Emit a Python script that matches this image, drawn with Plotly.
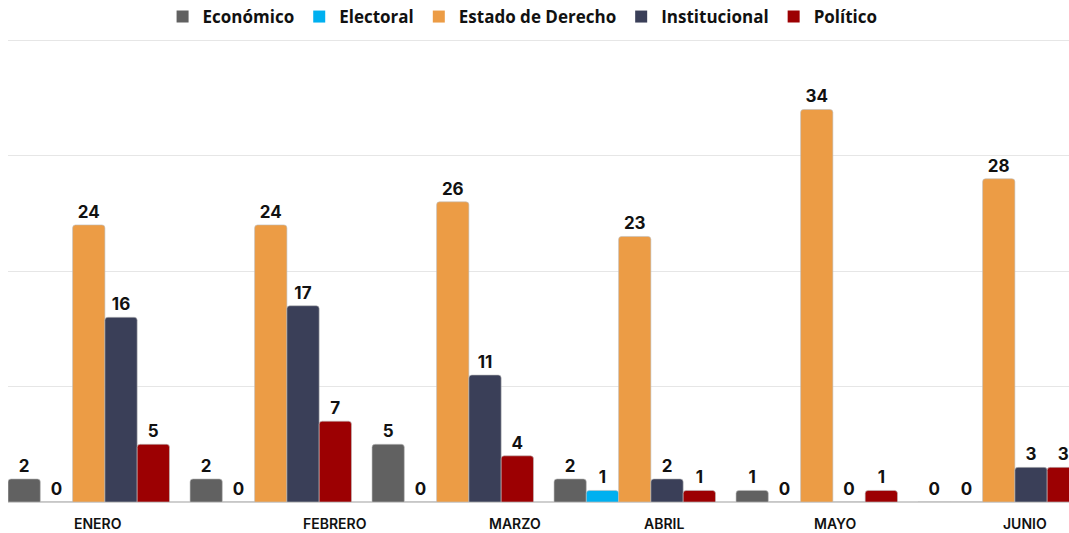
import plotly.graph_objects as go

months = ["ENERO", "FEBRERO", "MARZO", "ABRIL", "MAYO", "JUNIO"]
series_names = ["Económico", "Electoral", "Estado de Derecho", "Institucional", "Político"]
economico = [2, 2, 5, 2, 1, 0]
electoral = [0, 0, 0, 1, 0, 0]
estado = [24, 24, 26, 23, 34, 28]
institucional = [16, 17, 11, 2, 0, 3]
politico = [5, 7, 4, 1, 1, 3]
colors = ["#616161", "#00b0f0", "#ec9c45", "#3a3f58", "#9c0002"]

# horizontal label offsets (in category units) as in the reference
label_offsets = [0.05, 0.353, 0.342, 0.161, 0.10, 0.144]

values = [economico, electoral, estado, institucional, politico]

fig = go.Figure()
for name, vals, col in zip(series_names, values, colors):
    fig.add_trace(go.Bar(
        x=months, y=vals, name=name, showlegend=False,
        marker=dict(color=col, cornerradius=3,
                    line=dict(color="rgba(190,190,190,0.6)", width=1)),
        text=[str(v) for v in vals], textposition="outside",
        textfont=dict(family="Inter", size=17, color="#111111", weight="bold"),
        cliponaxis=False,
    ))
    fig.add_trace(go.Scatter(
        x=[None], y=[None], mode="markers", name=name,
        marker=dict(symbol="square", size=7, color=col),
    ))

for i, m in enumerate(months):
    fig.add_annotation(x=i + label_offsets[i], y=0, xref="x", yref="y",
                       text=m, showarrow=False, yshift=-21,
                       font=dict(family="Inter", size=14, color="#111111", weight=600))

fig.update_layout(
    width=1069, height=533,
    margin=dict(l=8, r=0, t=35, b=31, autoexpand=False),
    paper_bgcolor="white", plot_bgcolor="white",
    barmode="group", bargap=0.113, bargroupgap=0.0,
    legend=dict(orientation="h", x=0.485, xanchor="center", y=1 - 17 / 533,
                yanchor="middle", yref="container",
                font=dict(family="Open Sans", size=17, color="#111111", weight="bold"),
                itemsizing="constant", tracegroupgap=0, itemwidth=30),
)
fig.update_xaxes(range=[-0.4437, 5.386], showticklabels=False, showgrid=False,
                 zeroline=False, showline=False)
fig.update_yaxes(range=[0, 40.45], dtick=10, showticklabels=False, showgrid=True,
                 gridcolor="#e6e6e6", zeroline=True, zerolinecolor="#cfcfcf",
                 zerolinewidth=1.5)

fig.write_html("out.html", config={"displayModeBar": False},
               post_script="document.body.style.margin='0px';document.body.style.padding='0px';")
